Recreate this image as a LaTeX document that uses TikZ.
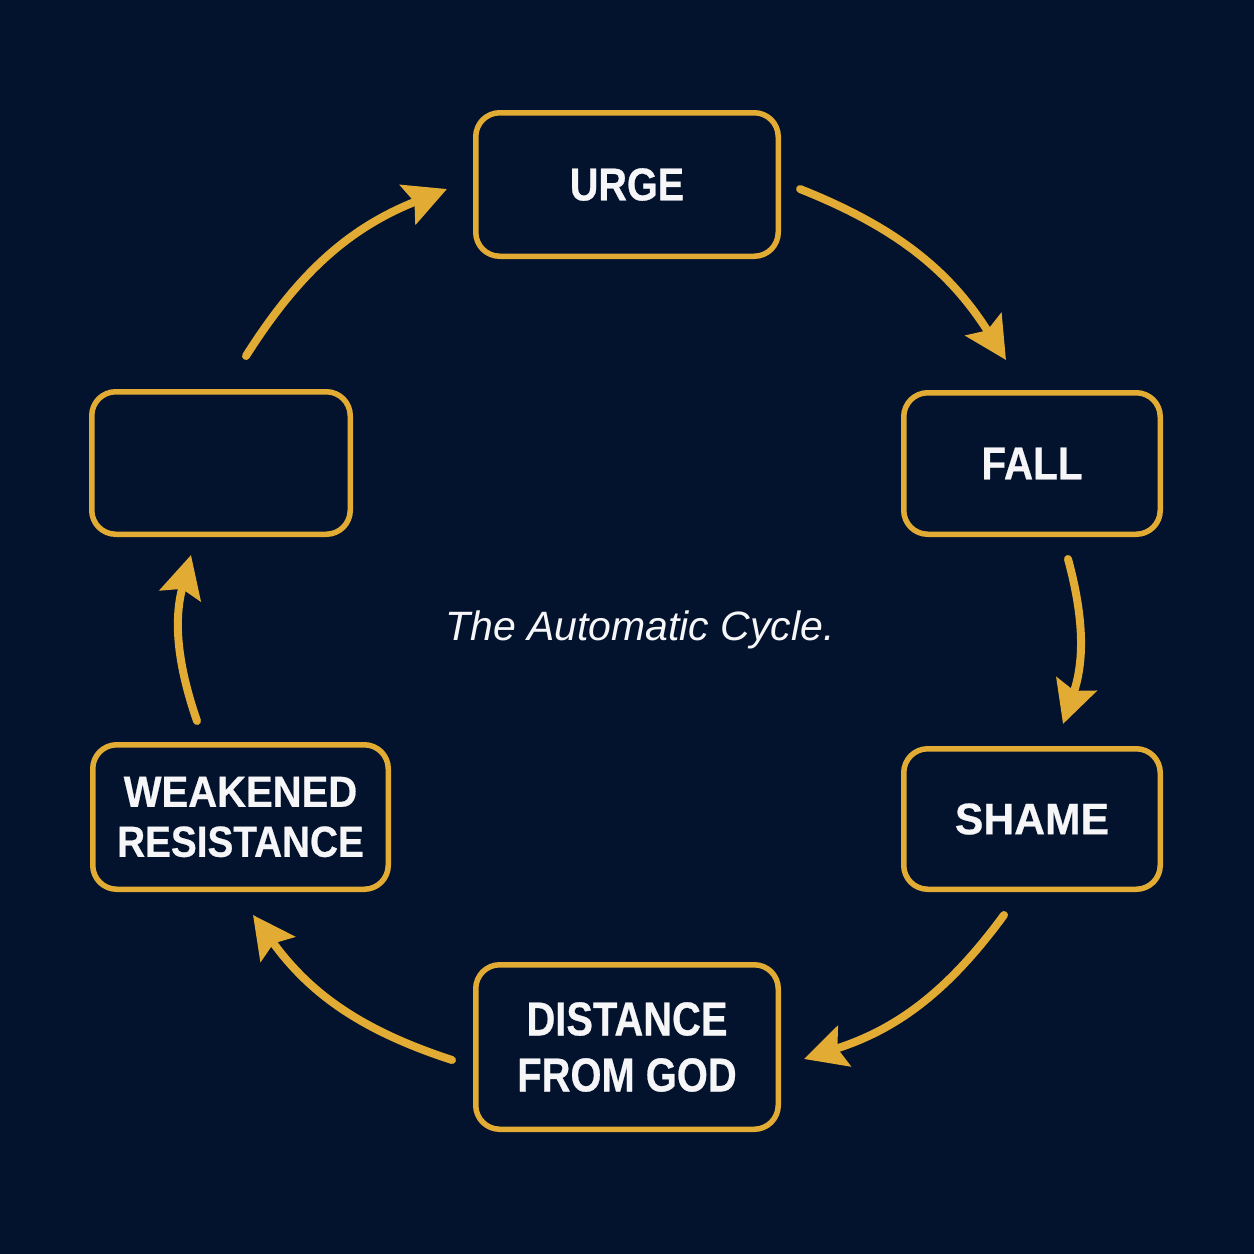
\documentclass[tikz,border=0pt]{standalone}
\usepackage{fontspec}
\setmainfont{Liberation Sans}[BoldFeatures={FakeBold=0.6}]
\usepackage{graphicx}
\usetikzlibrary{arrows.meta}
\definecolor{bg}{RGB}{3,19,45}
\definecolor{gold}{RGB}{226,172,52}
\definecolor{txt}{RGB}{246,246,248}
\newcommand\sx[2]{\scalebox{#1}[1]{#2}}
\begin{document}
\begin{tikzpicture}[x=1pt,y=-1pt,
  box/.style={draw=gold, line width=5.5pt, rounded corners=24pt, fill=bg, text=txt, inner sep=0pt, align=center},
  flow/.style={draw=gold, line width=8pt, line cap=round, -{Stealth[length=42pt,width=42pt,inset=7pt]}}]
\fill[bg] (0,0) rectangle (1254,1254);
\useasboundingbox (0,0) rectangle (1254,1254);

\node[box, minimum width=302.5pt, minimum height=143.5pt, font={\bfseries\fontsize{46}{56}\selectfont}] (urge) at (627,184.5) {\sx{0.86}{URGE}};
\node[box, minimum width=256.5pt, minimum height=141.5pt, font={\bfseries\fontsize{46}{56}\selectfont}] (fall) at (1032,463.5) {\sx{0.88}{FALL}};
\node[box, minimum width=256.5pt, minimum height=140.5pt, font={\bfseries\fontsize{44}{56}\selectfont}] (shame) at (1032,819) {\sx{0.97}{SHAME}};
\node[box, minimum width=302.5pt, minimum height=164.5pt, font={\bfseries\fontsize{47.5}{56}\selectfont}] (dist) at (627,1047) {\sx{0.84}{DISTANCE}\\\sx{0.84}{FROM GOD}};
\node[box, minimum width=295.5pt, minimum height=144.5pt, font={\bfseries\fontsize{43.5}{50}\selectfont}] (weak) at (240.5,817) {\sx{0.92}{WEAKENED}\\\sx{0.89}{RESISTANCE}};
\node[box, minimum width=258.5pt, minimum height=142.5pt] (empty) at (221,463) {};

\node[text=txt, font={\itshape\fontsize{41}{48}\selectfont}] (title) at (640,630) {The Automatic Cycle.};

\coordinate (a1s) at (800,189);  \coordinate (a1e) at (1006,360);
\coordinate (a2s) at (1068,559); \coordinate (a2e) at (1063,724);
\coordinate (a3s) at (1004,915); \coordinate (a3e) at (804,1059);
\coordinate (a4s) at (452,1060); \coordinate (a4e) at (253,915);
\coordinate (a5s) at (197,721);  \coordinate (a5e) at (191,555);
\coordinate (a6s) at (246,356);  \coordinate (a6e) at (447,189);

\draw[flow] (a1s) to[bend left=18] (a1e);
\draw[flow] (a2s) to[bend left=17] (a2e);
\draw[flow] (a3s) to[bend left=18] (a3e);
\draw[flow] (a4s) to[bend left=18] (a4e);
\draw[flow] (a5s) to[bend left=17] (a5e);
\draw[flow] (a6s) to[bend left=18] (a6e);
\end{tikzpicture}
\end{document}
